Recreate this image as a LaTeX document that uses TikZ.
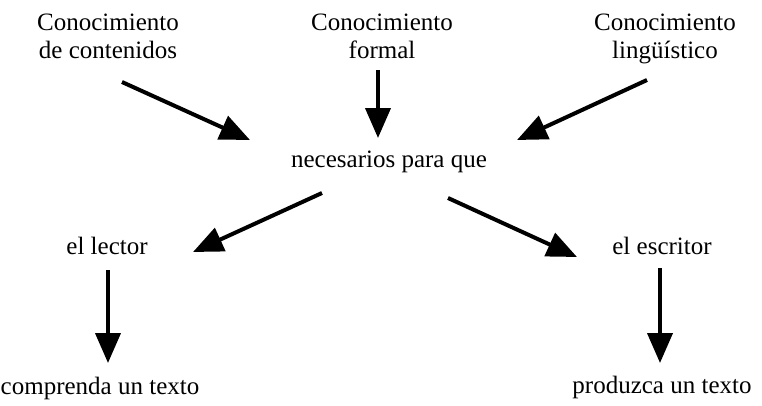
\documentclass[tikz,border=0pt]{standalone}
\usepackage{fontspec}
\setmainfont{Liberation Serif}
\usetikzlibrary{arrows.meta}
\begin{document}
\begin{tikzpicture}[x=1pt,y=-1pt,
  lbl/.style={font=\fontsize{25}{28}\selectfont, inner sep=0pt, align=center},
  arr/.style={line width=4pt, -{Triangle[length=30pt,width=25pt]}}]
\useasboundingbox (0,0) rectangle (762,405);
\node[lbl, anchor=north] (cont) at (108,14) {Conocimiento\\de contenidos};
\node[lbl, anchor=north] (form) at (382,14) {Conocimiento\\formal};
\node[lbl, anchor=north] (ling) at (665,14) {Conocimiento\\lingüístico};
\node[lbl, anchor=base] (nec) at (389,167) {necesarios para que};
\node[lbl, anchor=base] (lector) at (107,254) {el lector};
\node[lbl, anchor=base] (escritor) at (662,254) {el escritor};
\node[lbl, anchor=base] (comp) at (100,394) {comprenda un texto};
\node[lbl, anchor=base] (prod) at (662,393) {produzca un texto};
% connector end points
\coordinate (a1s) at (122,82);  \coordinate (a1e) at (250,140);
\coordinate (a2s) at (378,70);  \coordinate (a2e) at (378,138);
\coordinate (a3s) at (647,80);  \coordinate (a3e) at (517,140);
\coordinate (a4s) at (322,193); \coordinate (a4e) at (193,252);
\coordinate (a5s) at (448,198); \coordinate (a5e) at (577,257);
\coordinate (a6s) at (108,270); \coordinate (a6e) at (108,363);
\coordinate (a7s) at (660,268); \coordinate (a7e) at (660,363);
\draw[arr] (a1s) -- (a1e);
\draw[arr] (a2s) -- (a2e);
\draw[arr] (a3s) -- (a3e);
\draw[arr] (a4s) -- (a4e);
\draw[arr] (a5s) -- (a5e);
\draw[arr] (a6s) -- (a6e);
\draw[arr] (a7s) -- (a7e);
\end{tikzpicture}
\end{document}
